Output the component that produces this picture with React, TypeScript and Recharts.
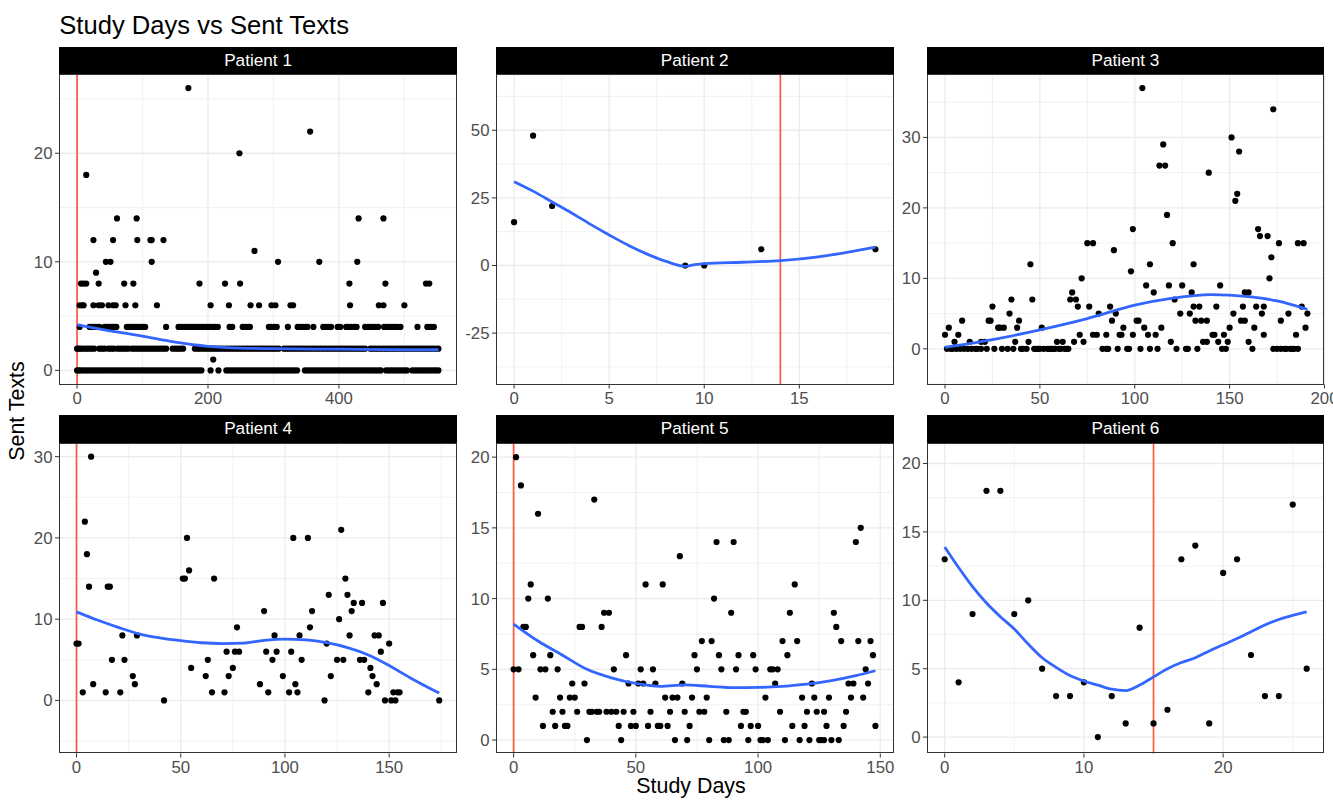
import React from "react";
import { ComposedChart, Scatter, XAxis, YAxis, CartesianGrid, ReferenceLine } from "recharts";

type Pt = { x: number; y: number };

// Patient 1: dense rows stored as day lists per value
const p1Zero = [0, 3, 6, 10, 14, 18, 22, 26, 30, 34, 38, 42, 46, 50, 54, 58, 62, 66, 70, 74, 78, 82, 86, 90, 94, 98, 102, 106, 110, 114, 118, 122, 126, 130, 134, 138, 142, 146, 150, 154, 158, 162, 166, 170, 174, 178, 182, 186, 190, 204, 216, 228, 232, 236, 240, 244, 248, 252, 256, 260, 264, 268, 272, 276, 280, 284, 288, 292, 296, 300, 304, 308, 312, 316, 320, 324, 328, 332, 336, 348, 352, 356, 360, 364, 368, 372, 376, 380, 384, 388, 392, 396, 400, 404, 408, 412, 416, 420, 424, 428, 432, 436, 440, 444, 448, 452, 456, 460, 464, 472, 476, 480, 484, 488, 492, 496, 500, 504, 512, 516, 520, 524, 528, 532, 536, 540, 544, 548, 552];
const p1Two = [0, 3, 6, 10, 14, 18, 22, 26, 34, 38, 42, 48, 52, 56, 62, 66, 70, 74, 78, 84, 88, 92, 96, 100, 104, 108, 112, 116, 120, 124, 128, 132, 136, 146, 150, 154, 158, 162, 180, 184, 188, 192, 196, 200, 204, 208, 212, 216, 220, 224, 228, 232, 236, 240, 244, 248, 252, 256, 260, 264, 268, 272, 276, 280, 284, 288, 292, 296, 300, 304, 308, 316, 320, 324, 328, 332, 336, 340, 344, 348, 352, 356, 360, 364, 368, 372, 376, 380, 384, 388, 392, 396, 400, 404, 408, 412, 416, 420, 424, 428, 432, 436, 440, 448, 452, 456, 460, 464, 468, 472, 476, 480, 484, 488, 492, 496, 500, 504, 508, 512, 516, 520, 524, 528, 532, 536, 540, 544, 548, 552];
const p1Four = [4, 19, 22, 25, 28, 31, 34, 42, 45, 48, 51, 54, 57, 60, 76, 79, 83, 86, 90, 94, 98, 101, 104, 136, 155, 159, 163, 167, 171, 175, 179, 183, 187, 191, 195, 199, 203, 207, 211, 215, 233, 237, 253, 257, 261, 264, 293, 297, 301, 305, 322, 337, 341, 345, 349, 352, 361, 376, 380, 384, 388, 398, 402, 411, 415, 419, 423, 427, 440, 444, 448, 452, 456, 460, 469, 473, 477, 481, 485, 489, 494, 520, 535, 540, 545];
const p1Other = [
  [208, 1],
  [4, 6], [8, 6], [10, 6], [25, 6], [33, 6], [38, 6], [48, 6], [55, 6], [59, 6], [74, 6], [89, 6], [122, 6], [204, 6], [232, 6], [265, 6], [278, 6], [297, 6], [303, 6], [326, 6], [330, 6], [417, 6], [461, 6], [468, 6], [500, 6],
  [6, 8], [10, 8], [14, 8], [33, 8], [72, 8], [86, 8], [187, 8], [226, 8], [249, 8], [416, 8], [471, 8], [533, 8], [538, 8],
  [29, 9],
  [44, 10], [51, 10], [114, 10], [307, 10], [370, 10], [428, 10],
  [271, 11],
  [25, 12], [55, 12], [92, 12], [112, 12], [114, 12], [132, 12],
  [61, 14], [91, 14], [430, 14], [468, 14],
  [14, 18], [248, 20], [356, 22], [170, 26],
];
const p1Smooth = [[0, 4.2], [50, 3.65], [100, 3.15], [150, 2.6], [200, 2.22], [250, 2.05], [300, 2.0], [400, 1.95], [500, 1.9], [552, 1.9]];

const p2Points = [[0, 16], [1, 48], [2, 22], [9, 0], [10, 0], [13, 6], [19, 6]];
const p2Smooth = [[0, 31], [1, 27.5], [2, 23.5], [3, 19.5], [4, 15.3], [5, 11.3], [6, 7.5], [7, 4.2], [8, 1.5], [9, -0.3], [9.5, 0.3], [10, 0.7], [12, 1.2], [14, 1.8], [16, 3.2], [18, 5.5], [19, 6.8]];

const p3Points = [
  [0, 2], [2, 3], [1, 0], [3, 0], [4, 0], [6, 0], [8, 0], [10, 0], [5, 1], [7, 2], [9, 4], [13, 1], [12, 0], [14, 0], [16, 0], [17, 0], [19, 0], [19, 1], [21, 1], [22, 0], [23, 4], [24, 4], [25, 6], [26, 0], [28, 3], [29, 3], [30, 0], [31, 3], [33, 0], [34, 5], [35, 7], [36, 0], [37, 1], [38, 3], [39, 4], [40, 0], [41, 0], [43, 0], [44, 1], [45, 12], [46, 7], [47, 0], [48, 0], [49, 0], [51, 3], [50, 0], [52, 0], [54, 0], [55, 0], [56, 0], [57, 0], [58, 0], [60, 0], [59, 1], [62, 1], [61, 0], [63, 0], [64, 0], [65, 0],
  [66, 7], [67, 8], [68, 1], [69, 7], [70, 6], [71, 2], [72, 10], [73, 1], [75, 15], [78, 15], [76, 6], [78, 2], [80, 2], [81, 5], [83, 0], [85, 0], [86, 0], [85, 2], [87, 6], [88, 4], [89, 14], [90, 5], [91, 0], [92, 2], [93, 2], [94, 3], [96, 0], [97, 0], [98, 11], [99, 17], [99, 2], [101, 4], [102, 4], [103, 0], [104, 37], [105, 3], [106, 9], [107, 2], [108, 12], [108, 0], [110, 8], [111, 2], [112, 0], [113, 26], [114, 3], [115, 29], [116, 26], [117, 19], [118, 9], [119, 1], [120, 15], [121, 7], [122, 0], [124, 5], [125, 9], [127, 0], [128, 0], [129, 5], [130, 8],
  [131, 12], [131, 6], [132, 4], [133, 0], [134, 6], [135, 4], [136, 1], [138, 1], [138, 4], [139, 25], [141, 2], [142, 2], [143, 6], [144, 1], [145, 9], [146, 0], [147, 2], [148, 0], [149, 1], [150, 3], [151, 30], [152, 5], [153, 21], [154, 22], [155, 28], [156, 4], [157, 6], [158, 4], [158, 8], [160, 8], [160, 1], [162, 0], [163, 3], [164, 6], [165, 17], [166, 16], [167, 5], [168, 2], [168, 6], [170, 16], [171, 10], [172, 13], [173, 34], [173, 0], [175, 0], [176, 15], [177, 4], [177, 0], [179, 0], [181, 5], [180, 0], [182, 0], [183, 0], [184, 0], [185, 2], [186, 0], [186, 15], [188, 6], [189, 15], [190, 3], [191, 5],
];
const p3Smooth = [[0, 0.2], [25, 1.3], [50, 2.7], [75, 4.3], [100, 6.2], [120, 7.2], [140, 7.7], [160, 7.4], [175, 6.8], [191, 5.6]];

const p4Points = [
  [0, 7], [1, 7], [3, 1], [4, 22], [5, 18], [6, 14], [7, 30], [8, 2], [14, 1], [15, 14], [16, 14], [17, 5], [21, 1], [22, 8], [23, 5], [27, 3], [28, 2], [29, 8], [42, 0], [51, 15], [52, 15], [53, 20], [54, 16], [55, 4], [62, 3], [63, 5], [65, 1], [66, 15], [71, 1], [72, 6], [73, 3], [75, 4], [76, 6], [77, 9], [78, 6], [88, 2], [90, 11], [91, 6], [92, 1], [94, 5], [95, 8], [96, 6], [99, 3], [102, 1], [103, 6], [104, 20], [105, 2], [106, 1], [107, 8], [108, 5], [111, 20], [112, 9], [113, 11],
  [119, 0], [120, 7], [121, 13], [122, 3], [125, 5], [126, 10], [127, 21], [128, 5], [129, 15], [130, 13], [131, 8], [132, 11], [133, 12], [136, 5], [137, 12], [138, 5], [140, 1], [141, 4], [142, 3], [143, 8], [144, 2], [145, 8], [146, 6], [147, 12], [148, 0], [150, 7], [151, 0], [152, 1], [153, 0], [154, 1], [155, 1], [174, 0],
];
const p4Smooth = [[0, 10.9], [10, 9.9], [20, 9.0], [30, 8.2], [40, 7.7], [50, 7.35], [60, 7.1], [70, 7.0], [80, 7.05], [90, 7.4], [100, 7.55], [110, 7.45], [120, 7.1], [130, 6.5], [140, 5.6], [150, 4.3], [160, 2.8], [174, 0.9]];

const p5Points = [
  [0, 5], [1, 20], [2, 5], [3, 18], [4, 8], [5, 8], [6, 10], [7, 11], [8, 6], [9, 3], [10, 16], [11, 5], [12, 1], [13, 5], [14, 10], [15, 6], [16, 2], [17, 1], [18, 5], [19, 3], [20, 2], [21, 1], [22, 1], [23, 3], [24, 4], [25, 3], [26, 2], [27, 8], [28, 8], [29, 4], [30, 0], [31, 2], [32, 2], [33, 17], [34, 2], [35, 2], [36, 8], [37, 9], [38, 2], [39, 9], [40, 2], [41, 5], [42, 2], [43, 1], [44, 0], [45, 2], [46, 6], [47, 4], [48, 1], [49, 2], [50, 1],
  [51, 4], [52, 5], [53, 4], [54, 11], [55, 1], [56, 2], [57, 5], [58, 4], [59, 1], [60, 1], [61, 11], [62, 3], [63, 1], [64, 2], [65, 3], [66, 0], [67, 3], [68, 13], [69, 4], [70, 2], [71, 0], [72, 1], [73, 3], [74, 6], [75, 5], [76, 2], [77, 7], [78, 2], [79, 3], [80, 0], [81, 7], [82, 10], [83, 14], [84, 6], [85, 5], [86, 0], [87, 2], [88, 0], [89, 9], [90, 14], [91, 5], [92, 6], [93, 1], [94, 2], [95, 2], [96, 0], [97, 1], [98, 6], [99, 5], [100, 1],
  [101, 0], [102, 0], [103, 3], [104, 0], [105, 5], [106, 5], [107, 4], [108, 5], [109, 2], [110, 7], [111, 0], [112, 6], [113, 9], [114, 1], [115, 11], [116, 7], [117, 0], [118, 3], [119, 1], [120, 2], [121, 0], [122, 4], [123, 3], [124, 2], [125, 0], [126, 0], [127, 0], [127, 2], [128, 1], [129, 3], [130, 0], [131, 9], [132, 8], [133, 0], [134, 7], [135, 1], [136, 2], [137, 4], [138, 3], [139, 4], [140, 14], [141, 7], [142, 15], [143, 3], [144, 5], [145, 4], [146, 7], [147, 6], [148, 1],
];
const p5Smooth = [[0, 8.2], [10, 7.0], [20, 6.0], [30, 5.0], [40, 4.4], [50, 4.0], [60, 3.8], [70, 3.9], [80, 3.8], [90, 3.7], [100, 3.72], [110, 3.8], [120, 3.95], [130, 4.2], [140, 4.55], [148, 4.9]];

const p6Points = [[0, 13], [1, 4], [2, 9], [3, 18], [4, 18], [5, 9], [6, 10], [7, 5], [8, 3], [9, 3], [10, 4], [11, 0], [12, 3], [13, 1], [14, 8], [15, 1], [16, 2], [17, 13], [18, 14], [19, 1], [20, 12], [21, 13], [22, 6], [23, 3], [24, 3], [25, 17], [26, 5]];
const p6Smooth = [[0, 13.9], [1, 12.4], [2, 11.0], [3, 9.8], [4, 8.8], [5, 7.9], [6, 6.8], [7, 5.8], [8, 5.1], [9, 4.5], [10, 4.1], [11, 3.8], [12, 3.5], [13, 3.4], [14, 3.8], [15, 4.4], [16, 5.0], [17, 5.45], [18, 5.8], [19, 6.3], [20, 6.75], [21, 7.2], [22, 7.7], [23, 8.2], [24, 8.6], [25, 8.9], [26, 9.15]];

const toPts = (pairs: number[][]): Pt[] => pairs.map(([x, y]) => ({ x, y }));
const row = (days: number[], y: number): Pt[] => days.map((x) => ({ x, y }));

const panels = [
  {
    title: "Patient 1",
    points: [...row(p1Zero, 0), ...row(p1Two, 2), ...row(p1Four, 4), ...toPts(p1Other)],
    smooth: toPts(p1Smooth),
    vline: 0,
    xDomain: [-27.6, 579.6], xTicks: [0, 200, 400], xMinor: [100, 300, 500],
    yDomain: [-1.3, 27.3], yTicks: [0, 10, 20], yMinor: [5, 15, 25],
  },
  {
    title: "Patient 2",
    points: toPts(p2Points),
    smooth: toPts(p2Smooth),
    vline: 14,
    xDomain: [-0.95, 19.95], xTicks: [0, 5, 10, 15], xMinor: [2.5, 7.5, 12.5, 17.5],
    yDomain: [-44, 70.8], yTicks: [-25, 0, 25, 50], yMinor: [-37.5, -12.5, 12.5, 37.5, 62.5],
  },
  {
    title: "Patient 3",
    points: toPts(p3Points),
    smooth: toPts(p3Smooth),
    vline: undefined,
    xDomain: [-9.5, 200], xTicks: [0, 50, 100, 150, 200], xMinor: [25, 75, 125, 175],
    yDomain: [-5.06, 39], yTicks: [0, 10, 20, 30], yMinor: [-5, 5, 15, 25, 35],
  },
  {
    title: "Patient 4",
    points: toPts(p4Points),
    smooth: toPts(p4Smooth),
    vline: 0,
    xDomain: [-8.4, 182.3], xTicks: [0, 50, 100, 150], xMinor: [25, 75, 125, 175],
    yDomain: [-6.53, 31.68], yTicks: [0, 10, 20, 30], yMinor: [-5, 5, 15, 25],
  },
  {
    title: "Patient 5",
    points: toPts(p5Points),
    smooth: toPts(p5Smooth),
    vline: 0,
    xDomain: [-7.2, 155.4], xTicks: [0, 50, 100, 150], xMinor: [25, 75, 125],
    yDomain: [-0.95, 21], yTicks: [0, 5, 10, 15, 20], yMinor: [2.5, 7.5, 12.5, 17.5],
  },
  {
    title: "Patient 6",
    points: toPts(p6Points),
    smooth: toPts(p6Smooth),
    vline: 15,
    xDomain: [-1.27, 27.28], xTicks: [0, 10, 20], xMinor: [5, 15, 25],
    yDomain: [-1.2, 21.5], yTicks: [0, 5, 10, 15, 20], yMinor: [2.5, 7.5, 12.5, 17.5],
  },
];

const COL_LEFT = [59.3, 496, 926.7];
const ROW_TOP = [46.7, 415];
const PANEL_W = 397.5;
const STRIP_H = 27.6;
const PLOT_H = 310.5;
const Y_AXIS_W = 45;
const X_AXIS_H = 30;
const RIGHT_PAD = 14;
const TICK_FONT = 16.8;

const Dot = (props: any) => <circle cx={props.cx} cy={props.cy} r={3.1} fill="#000" />;
const NoDot = () => null;

function Panel({ p, left, top }: { p: (typeof panels)[number]; left: number; top: number }) {
  return (
    <>
      <div
        style={{
          position: "absolute", left, top, width: PANEL_W, height: STRIP_H, background: "#000", color: "#fff",
          fontSize: 17.2, display: "flex", alignItems: "center", justifyContent: "center",
        }}
      >
        {p.title}
      </div>
      <div style={{ position: "absolute", left: left - Y_AXIS_W, top: top + STRIP_H }}>
        <ComposedChart
          width={Y_AXIS_W + PANEL_W + RIGHT_PAD}
          height={PLOT_H + X_AXIS_H}
          margin={{ top: 0, right: RIGHT_PAD, bottom: 0, left: 0 }}
        >
          <CartesianGrid horizontalValues={p.yMinor} verticalValues={p.xMinor} stroke="#ebebeb" strokeWidth={0.7} />
          <CartesianGrid horizontalValues={p.yTicks} verticalValues={p.xTicks} stroke="#ebebeb" strokeWidth={1.3} />
          <XAxis
            type="number" dataKey="x" domain={p.xDomain} ticks={p.xTicks} interval={0} allowDataOverflow
            height={X_AXIS_H} axisLine={false} tickLine={{ stroke: "#333" }} tickSize={4} tickMargin={3.5}
            tick={{ fill: "#4d4d4d", fontSize: TICK_FONT }}
          />
          <YAxis
            type="number" dataKey="y" domain={p.yDomain} ticks={p.yTicks} interval={0} allowDataOverflow
            width={Y_AXIS_W} axisLine={false} tickLine={{ stroke: "#333" }} tickSize={4} tickMargin={2.5}
            tick={{ fill: "#4d4d4d", fontSize: TICK_FONT }}
          />
          <Scatter data={p.points} shape={Dot} isAnimationActive={false} />
          <Scatter
            data={p.smooth} shape={NoDot} line={{ stroke: "#3366ff", strokeWidth: 2.8 }}
            lineType="joint" lineJointType="monotoneX" isAnimationActive={false}
          />
          {p.vline !== undefined && <ReferenceLine x={p.vline} stroke="#fa5a3f" strokeWidth={1.7} />}
        </ComposedChart>
        <div
          style={{
            position: "absolute", left: Y_AXIS_W, top: 0, width: PANEL_W, height: PLOT_H,
            border: "1px solid #333", boxSizing: "border-box", pointerEvents: "none",
          }}
        />
      </div>
    </>
  );
}

export default function App() {
  return (
    <div
      style={{
        position: "absolute", left: 0, top: 0, width: 1333, height: 800, background: "#fff",
        fontFamily: "'Liberation Sans', Arial, sans-serif", color: "#000",
      }}
    >
      <div style={{ position: "absolute", left: 59.3, top: 12.6, fontSize: 25.6, lineHeight: 1, whiteSpace: "nowrap" }}>
        Study Days vs Sent Texts
      </div>
      {panels.map((p, i) => (
        <Panel key={p.title} p={p} left={COL_LEFT[i % 3]} top={ROW_TOP[Math.floor(i / 3)]} />
      ))}
      <div
        style={{
          position: "absolute", left: 18, top: 411, fontSize: 21.4, lineHeight: 1, whiteSpace: "nowrap",
          transform: "translate(-50%, -50%) rotate(-90deg)",
        }}
      >
        Sent Texts
      </div>
      <div
        style={{
          position: "absolute", left: 691, top: 776.2, fontSize: 21.4, lineHeight: 1, whiteSpace: "nowrap",
          transform: "translateX(-50%)",
        }}
      >
        Study Days
      </div>
    </div>
  );
}
